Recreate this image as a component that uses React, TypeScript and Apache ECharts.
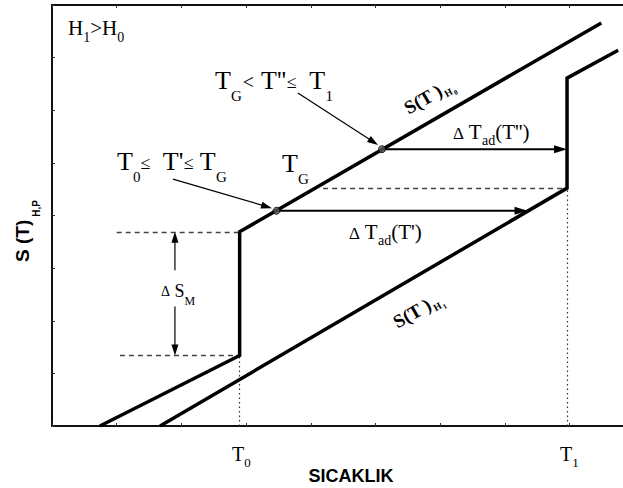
import { useEffect, useRef } from 'react';
import * as echarts from 'echarts';

// Transition temperatures (x units: one axis tick = 10)
const T0 = 29;
const T1 = 79.6;

// Entropy curves: low field H0 (jump at T0) and high field H1 (jump at T1)
const curveH0 = [[7.4, 0], [T0, 13.4], [T0, 36.9], [84.9, 76.6]];
const curveH1 = [[16.7, 0], [T1, 45.2], [T1, 66.1], [87.5, 71.4]];

// Guide lines
const dashedGuides = [
  [[10.0, 36.9], [T0, 36.9]],
  [[10.5, 13.4], [T0, 13.4]],
  [[41.9, 45.2], [T1, 45.2]],
];
const dottedGuides = [
  [[T0, 0], [T0, 13.4]],
  [[T1, 0], [T1, 45.2]],
];

// Starting states T' and T'' on the H0 curve
const markedPoints = [[34.7, 40.9], [51.0, 52.6]];

// Arrows: [x1, y1, x2, y2]
const adiabaticArrows = [[34.7, 40.9, 73.5, 40.9], [51.0, 52.6, T1, 52.6]];
const pointerArrows = [[18.7, 46.9, 34.0, 41.4], [38.0, 63.3, 50.4, 53.4]];
const deltaSArrows = [[19.0, 29.6, 19.0, 36.9], [19.0, 22.7, 19.0, 13.4]];

const X_MAX = 88.25;
const Y_MAX = 80;

const serif = '"Liberation Serif", "Times New Roman", Times, serif';
const sans = '"Liberation Sans", Arial, Helvetica, sans-serif';

function serifRich(F: number, sub: number, subPad: number, op: number, opPad: number) {
  return {
    m: { fontFamily: serif, fontSize: F, verticalAlign: 'top', fill: '#000' },
    s: { fontFamily: serif, fontSize: sub, verticalAlign: 'top', padding: [subPad, 0, 0, 0], fill: '#000' },
    o: { fontFamily: serif, fontSize: op, verticalAlign: 'top', padding: [opPad, 0, 0, 0], fill: '#000' },
    l: { fontFamily: serif, fontSize: 20, verticalAlign: 'top', padding: [5, 1, 0, 1], fill: '#000' },
  };
}

function curveLabelRich() {
  return {
    b: { fontFamily: serif, fontWeight: 'bold', fontSize: 19, verticalAlign: 'top', fill: '#000' },
    h: { fontFamily: serif, fontWeight: 'bold', fontSize: 10, verticalAlign: 'top', padding: [11.5, 0, 0, 1], fill: '#000' },
    k: { fontFamily: serif, fontWeight: 'bold', fontSize: 7, verticalAlign: 'top', padding: [17, 0, 0, 1], fill: '#000' },
  };
}

function arrowSeries(data: number[][], width: number, headLen: number, headHalf: number) {
  return {
    type: 'custom',
    data,
    silent: true,
    z: 4,
    encode: { x: [0, 2], y: [1, 3] },
    renderItem: (_params: any, api: any) => {
      const a = api.coord([api.value(0), api.value(1)]);
      const b = api.coord([api.value(2), api.value(3)]);
      const dx = b[0] - a[0];
      const dy = b[1] - a[1];
      const len = Math.hypot(dx, dy) || 1;
      const ux = dx / len;
      const uy = dy / len;
      const bx = b[0] - ux * headLen;
      const by = b[1] - uy * headLen;
      return {
        type: 'group',
        children: [
          {
            type: 'line',
            shape: { x1: a[0], y1: a[1], x2: bx + ux * 2, y2: by + uy * 2 },
            style: { stroke: '#000', lineWidth: width },
          },
          {
            type: 'polygon',
            shape: {
              points: [
                [b[0], b[1]],
                [bx - uy * headHalf, by + ux * headHalf],
                [bx + uy * headHalf, by - ux * headHalf],
              ],
            },
            style: { fill: '#000' },
          },
        ],
      };
    },
  };
}

const frameAxis = (position: 'top' | 'bottom') => ({
  type: 'value',
  position,
  min: 0,
  max: X_MAX,
  interval: 10,
  axisLine: { show: true, onZero: false, lineStyle: { color: '#111', width: 2 } },
  axisTick: { show: true, inside: true, length: 3, lineStyle: { color: '#333', width: 1 } },
  axisLabel: { show: false },
  splitLine: { show: false },
});

export default function App() {
  const ref = useRef<HTMLDivElement>(null);

  useEffect(() => {
    if (!ref.current) return;
    const chart = echarts.init(ref.current, null, { renderer: 'svg' });
    const r26 = serifRich(26, 15, 21.5, 18, 6);
    const r21 = serifRich(21, 14, 11.9, 17, 3.4);

    chart.setOption({
      animation: false,
      backgroundColor: '#fff',
      grid: { left: 52, top: 5, right: 0, bottom: 62, containLabel: false, outerBoundsMode: 'none' },
      xAxis: [frameAxis('bottom'), frameAxis('top')],
      yAxis: {
        type: 'value',
        min: 0,
        max: Y_MAX,
        interval: 10,
        axisLine: { show: true, onZero: false, lineStyle: { color: '#111', width: 2 } },
        axisTick: { show: true, inside: true, length: 3, lineStyle: { color: '#333', width: 1 } },
        axisLabel: { show: false },
        splitLine: { show: false },
      },
      series: [
        {
          type: 'lines',
          coordinateSystem: 'cartesian2d',
          silent: true,
          z: 1,
          data: dashedGuides.map((c) => ({ coords: c })),
          lineStyle: { color: '#444', width: 1.3, type: [5, 4], opacity: 1 },
        },
        {
          type: 'lines',
          coordinateSystem: 'cartesian2d',
          silent: true,
          z: 1,
          data: dottedGuides.map((c) => ({ coords: c })),
          lineStyle: { color: '#333', width: 1.2, type: [1.5, 3], opacity: 1 },
        },
        {
          type: 'line',
          name: 'H0',
          data: curveH0,
          showSymbol: false,
          silent: true,
          z: 3,
          lineStyle: { color: '#000', width: 3.5, join: 'miter' },
        },
        {
          type: 'line',
          name: 'H1',
          data: curveH1,
          showSymbol: false,
          silent: true,
          z: 3,
          lineStyle: { color: '#000', width: 3.5, join: 'miter' },
        },
        arrowSeries(adiabaticArrows, 2, 13, 4),
        arrowSeries(pointerArrows, 1.2, 11, 3.5),
        arrowSeries(deltaSArrows, 1.2, 11, 3.5),
        {
          type: 'scatter',
          data: markedPoints,
          symbolSize: 7,
          silent: true,
          z: 6,
          itemStyle: { color: '#555', borderColor: '#000', borderWidth: 1 },
        },
      ],
      graphic: [
        {
          type: 'text', x: 68, y: 17.3, z: 10,
          style: { text: '{m|H}{s|1}{m|>H}{s|0}', rich: serifRich(21, 14, 12.9, 18, 2.7), verticalAlign: 'top' },
        },
        {
          type: 'text', x: 117, y: 148, z: 10,
          style: { text: "{m|T}{s|0}{o|≤}{m|  T'}{o|≤}{m| T}{s|G}", rich: r26, verticalAlign: 'top' },
        },
        {
          type: 'text', x: 282, y: 150, z: 10,
          style: { text: '{m|T}{s|G}', rich: r26, verticalAlign: 'top' },
        },
        {
          type: 'text', x: 215, y: 67, z: 10,
          style: { text: "{m|T}{s|G}{l|<}{m| T''}{o|≤}{m|  T}{s|1}", rich: r26, verticalAlign: 'top' },
        },
        {
          type: 'text', x: 453, y: 121.3, z: 10,
          style: { text: "{o|Δ}{m| T}{s|ad}{m|(T'')}", rich: r21, verticalAlign: 'top' },
        },
        {
          type: 'text', x: 349, y: 221.3, z: 10,
          style: { text: "{o|Δ}{m| T}{s|ad}{m|(T')}", rich: r21, verticalAlign: 'top' },
        },
        {
          type: 'text', x: 161, y: 281.9, z: 10,
          style: { text: '{o|Δ}{m| S}{s|M}', rich: serifRich(18, 12, 13, 14, 2.8), verticalAlign: 'top' },
        },
        {
          type: 'text', x: 232, y: 443.5, z: 10,
          style: { text: '{m|T}{s|0}', rich: serifRich(20, 13, 12.9, 13, 0), verticalAlign: 'top' },
        },
        {
          type: 'text', x: 560, y: 443.5, z: 10,
          style: { text: '{m|T}{s|1}', rich: serifRich(20, 13, 12.9, 13, 0), verticalAlign: 'top' },
        },
        {
          type: 'text', x: 430, y: 98, rotation: Math.PI / 6, z: 10,
          style: { text: '{b|S(T )}{h|H}{k|0}', rich: curveLabelRich(), align: 'center', verticalAlign: 'middle' },
        },
        {
          type: 'text', x: 419, y: 312, rotation: Math.PI / 6, z: 10,
          style: { text: '{b|S(T )}{h|H}{k|1}', rich: curveLabelRich(), align: 'center', verticalAlign: 'middle' },
        },
        {
          type: 'text', x: 27, y: 231, rotation: Math.PI / 2, z: 10,
          style: {
            text: '{a|S (T)}{p|H,P}',
            align: 'center',
            verticalAlign: 'middle',
            rich: {
              a: { fontFamily: sans, fontWeight: 'bold', fontSize: 19, verticalAlign: 'top', fill: '#000' },
              p: { fontFamily: sans, fontWeight: 'bold', fontSize: 10, verticalAlign: 'top', padding: [18, 0, 0, 3], fill: '#000' },
            },
          },
        },
        {
          type: 'text', x: 351, y: 476, z: 10,
          style: {
            text: 'SICAKLIK',
            fontFamily: sans,
            fontWeight: 'bold',
            fontSize: 18,
            fill: '#000',
            align: 'center',
            verticalAlign: 'middle',
          },
        },
      ],
    });

    return () => chart.dispose();
  }, []);

  return (
    <div
      ref={ref}
      style={{ position: 'fixed', left: 0, top: 0, width: 623, height: 488, background: '#fff' }}
    />
  );
}
